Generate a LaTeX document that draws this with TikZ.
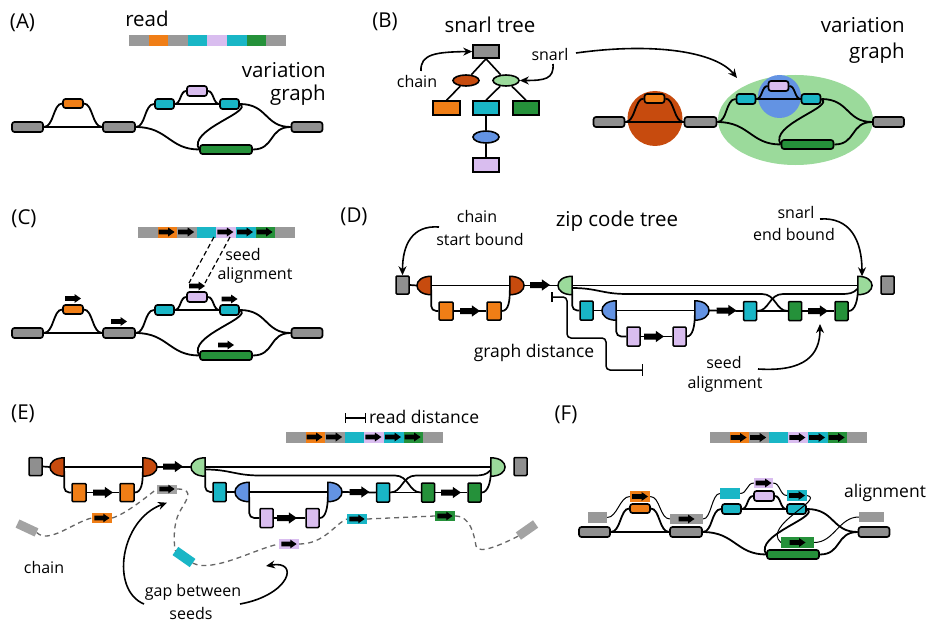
\documentclass[tikz,border=0pt]{standalone}
\usepackage{fontspec}
\setmainfont{Open Sans}
\usetikzlibrary{arrows.meta,shapes.geometric,backgrounds}
\definecolor{cgray}{HTML}{8F8F8F}
\definecolor{rgray}{HTML}{999999}
\definecolor{sgray}{HTML}{A3A3A3}
\definecolor{corange}{HTML}{F07E16}
\definecolor{ccyan}{HTML}{19B6C6}
\definecolor{clilac}{HTML}{D9BDEF}
\definecolor{cgreen}{HTML}{25913A}
\definecolor{crust}{HTML}{C74B0E}
\definecolor{clgreen}{HTML}{9BDA9B}
\definecolor{cblue}{HTML}{6393E3}
\newcommand\fbig{\fontsize{20.5}{22}\selectfont}
\newcommand\fmed{\fontsize{17.5}{19}\selectfont}
\newcommand\fsm{\fontsize{16}{18}\selectfont}
\tikzset{
  gn/.style={draw, line width=1.7pt, rounded corners=2.5pt, inner sep=0pt, minimum height=10pt},
  ged/.style={line width=1.8pt},
  zr/.style={draw, line width=1.5pt, inner sep=0pt, minimum width=13pt, minimum height=18pt, rounded corners=1pt},
  hd/.style={inner sep=0pt, minimum width=14pt, minimum height=18pt},
  hdd/.style={draw, line width=1.5pt},
  zl/.style={line width=1.7pt},
  carr/.style={-{Stealth[length=9pt,width=8pt]}, line width=1.6pt},
  lbl/.style={inner sep=0pt, font=\fbig},
  med/.style={inner sep=0pt, font=\fmed},
  sml/.style={inner sep=0pt, font=\fsm},
  sd/.style={inner sep=0pt, minimum width=20pt, minimum height=10pt},
  chn/.style={draw=black!60, line width=1.3pt, dash pattern=on 5pt off 4pt},
  aln/.style={line width=1pt},
  tn/.style={draw, line width=1.6pt, inner sep=0pt, minimum width=26pt, minimum height=14pt},
  te/.style={ellipse, draw, line width=1.6pt, inner sep=0pt, minimum width=26pt, minimum height=11pt},
  barr/.pic={\fill[black] (-8,-2.4) -- (1.5,-2.4) -- (1.5,-4.5) -- (8,0) -- (1.5,4.5) -- (1.5,2.4) -- (-8,2.4) -- cycle;},
  vg/.pic={
    \node[gn,fill=cgray,minimum width=31pt] (-lg) at (27.5,127) {};
    \node[gn,fill=corange,minimum width=20pt,minimum height=9pt] (-or) at (73,103.5) {};
    \node[gn,fill=cgray,minimum width=32pt] (-mg) at (119,127) {};
    \node[gn,fill=ccyan,minimum width=19pt] (-ca) at (164.5,104) {};
    \node[gn,fill=clilac,minimum width=20pt] (-li) at (197,91) {};
    \node[gn,fill=ccyan,minimum width=19pt] (-cb) at (229.5,104) {};
    \node[gn,fill=cgreen,minimum width=52pt,minimum height=9pt] (-gr) at (226,149.5) {};
    \node[gn,fill=cgray,minimum width=31pt] (-rg) at (307,127) {};
    \draw[ged] (-lg.east) -- (-mg.west);
    \draw[ged] (-lg.east) .. controls +(10,0) and +(-9,0) .. (-or.west);
    \draw[ged] (-or.east) .. controls +(9,0) and +(-10,0) .. (-mg.west);
    \draw[ged] (-mg.east) .. controls +(10,0) and +(-10,0) .. (-ca.west);
    \draw[ged] (-ca.east) -- (-cb.west);
    \draw[ged] (-ca.east) .. controls +(6,0) and +(-6,0) .. (-li.west);
    \draw[ged] (-li.east) .. controls +(6,0) and +(-6,0) .. (-cb.west);
    \draw[ged] (-mg.east) .. controls +(32,0) and +(-30,0) .. (-gr.west);
    \draw[ged] (-cb.east) .. controls +(28,0) and +(-26,0) .. (-rg.west);
    \draw[ged] (-cb.east) .. controls +(14,8) and +(-12,-20) .. (-gr.west);
    \draw[ged] (-gr.east) .. controls +(22,0) and +(-22,0) .. (-rg.west);
  },
  zt/.pic={
    \node[zr,fill=cgray] (-g1) at (402.5,285) {};
    \node[hd] (-rs) at (424,285.5) {};
    \node[hd] (-re) at (517,285.5) {};
    \node[hd] (-gs) at (565,285.5) {};
    \node[hd] (-ge) at (865,285.5) {};
    \node[zr,fill=cgray] (-g2) at (887.5,285) {};
    \node[zr,fill=corange,minimum width=14pt] (-o1) at (446,311) {};
    \node[zr,fill=corange,minimum width=14pt] (-o2) at (494,311) {};
    \node[zr,fill=ccyan,minimum height=19pt] (-c1) at (586.5,310.5) {};
    \node[hd,minimum height=19pt] (-bs) at (609,310.5) {};
    \node[hd,minimum height=19pt] (-be) at (702,310.5) {};
    \node[zr,fill=ccyan,minimum height=19pt] (-c2) at (750,311) {};
    \node[zr,fill=cgreen,minimum height=19pt] (-k1) at (795,311) {};
    \node[zr,fill=cgreen,minimum height=19pt] (-k2) at (841.5,311) {};
    \node[zr,fill=clilac,minimum height=19pt] (-l1) at (633.5,336.5) {};
    \node[zr,fill=clilac,minimum height=19pt] (-l2) at (679.5,336.5) {};
    \draw[zl] (-g1.east) -- (-rs.west);
    \draw[zl] (-rs.east) -- (-re.west);
    \draw[zl,rounded corners=5pt] ([yshift=-4pt]-rs.east) |- (-o1.west);
    \draw[zl] (-o1.east) -- (-o2.west);
    \draw[zl] (-o2.east) .. controls +(7,0) and +(0,10) .. ([yshift=-5pt]-re.west);
    \draw[zl] (-re.east) -- (-gs.west);
    \draw[zl] (-gs.east) -- (-ge.west);
    \draw[zl] ([yshift=-2.5pt]-gs.east) .. controls +(25,0) and +(-25,0) .. (627,294) -- (762,294) .. controls +(14,0) and +(-12,0) .. (-k1.west);
    \draw[zl] (-c2.east) .. controls +(12,0) and +(-14,0) .. (783,294) -- (840,294) .. controls +(10,0) and +(-5,5) .. ([yshift=-3pt]-ge.west);
    \draw[zl] (-c2.east) -- (-k1.west);
    \draw[zl,rounded corners=5pt] ([yshift=-5pt]-gs.east) |- (-c1.west);
    \draw[zl] (-c1.east) -- (-bs.west);
    \draw[zl] (-bs.east) -- (-be.west);
    \draw[zl,rounded corners=5pt] ([yshift=-5pt]-bs.east) |- (-l1.west);
    \draw[zl] (-l1.east) -- (-l2.west);
    \draw[zl] (-l2.east) .. controls +(6,0) and +(0,10) .. ([yshift=-5pt]-be.west);
    \draw[zl] (-be.east) -- (-c2.west);
    \draw[zl] (-k1.east) -- (-k2.west);
    \draw[zl] (-k2.east) .. controls +(6,0) and +(0,10) .. ([yshift=-5pt]-ge.west);
    \draw[hdd,fill=crust] (-rs.north east) .. controls +(-19,0) and +(-19,0) .. (-rs.south east) -- cycle;
    \draw[hdd,fill=crust] (-re.north west) .. controls +(19,0) and +(19,0) .. (-re.south west) -- cycle;
    \draw[hdd,fill=clgreen] (-gs.north east) .. controls +(-19,0) and +(-19,0) .. (-gs.south east) -- cycle;
    \draw[hdd,fill=clgreen] (-ge.north west) .. controls +(19,0) and +(19,0) .. (-ge.south west) -- cycle;
    \draw[hdd,fill=cblue] (-bs.north east) .. controls +(-19,0) and +(-19,0) .. (-bs.south east) -- cycle;
    \draw[hdd,fill=cblue] (-be.north west) .. controls +(19,0) and +(19,0) .. (-be.south west) -- cycle;
    \pic[scale=1.25] at (540,285) {barr};
    \pic[scale=1.25] at (470,311) {barr};
    \pic[scale=1.25] at (726.5,310.5) {barr};
    \pic[scale=1.25] at (818,311) {barr};
    \pic[scale=1.25] at (654,336.5) {barr};
  }
}
\newcommand\readbar[2]{%
  \foreach \cc [count=\ii from 0] in {rgray,corange,rgray,ccyan,clilac,ccyan,cgreen,rgray}
    \fill[\cc] ({#1+\ii*19.6},{#2-5.5}) rectangle ++(19.6,11);
}
\newcommand\readarrows[2]{%
  \foreach \ii in {1,2,4,5,6} \pic at ({#1+\ii*19.6+9},{#2}) {barr};
}
\begin{document}
\begin{tikzpicture}[x=1pt,y=-1pt]
\useasboundingbox (0,0) rectangle (942,623);
%%%%% A
\node[lbl] (labA) at (22.5,22.5) {(A)};
\node[lbl] (treadA) at (147,18.5) {read};
\readbar{129}{40.5}
\node[lbl,anchor=east] (tvarA) at (326,70) {variation};
\node[lbl,anchor=east] (tgraA) at (326,95) {graph};
\pic (A) at (0,0) {vg};
%%%%% B
\node[lbl] (labB) at (385,22) {(B)};
\node[lbl] (tsnt) at (490,25) {snarl tree};
\node[tn,fill=cgray,minimum height=13pt] (troot) at (486,51.5) {};
\node[te,fill=crust] (tr1) at (466,80.5) {};
\node[te,fill=clgreen] (tr2) at (506,80.5) {};
\node[tn,fill=corange,minimum width=27pt] (tr3) at (446.5,108) {};
\node[tn,fill=ccyan] (tr4) at (486,108) {};
\node[tn,fill=cgreen] (tr5) at (526,108) {};
\node[te,fill=cblue,minimum height=12pt] (tr6) at (486,137) {};
\node[tn,fill=clilac] (tr7) at (486,165) {};
\begin{scope}[on background layer]
\fill[white] (0,0) rectangle (942,623);
\draw[line width=1.6pt] (troot.south) -- (tr1) (troot.south) -- (tr2) (tr1) -- (tr3.north) (tr2) -- (tr4.north) (tr2) -- (tr5.north) (tr4) -- (tr6) (tr6) -- (tr7);
\end{scope}
\node[sml] (tchainB) at (417,82) {chain};
\coordinate (chB) at (421,71);
\draw[carr] (chB) .. controls (420,54) and (436,52) .. (troot.west);
\node[sml] (tsnarlB) at (550,55) {snarl};
\coordinate (snB) at (553,64);
\draw[carr] (snB) .. controls (554,79) and (545,80.5) .. (tr2.east);
\coordinate (snB2) at (576,53);
\coordinate (snB3) at (737,78);
\draw[carr] (snB2) .. controls (655,42) and (716,52) .. (snB3);
\node[lbl,anchor=east] (tvarB) at (905,25) {variation};
\node[lbl,anchor=east] (tgraB) at (905,53) {graph};
\fill[crust] (655,118.5) circle[radius=27.5pt];
\fill[clgreen] (795.5,120) ellipse[x radius=77.5pt, y radius=45pt];
\fill[cblue] (779.5,96.5) circle[radius=21.5pt];
\pic (B) at (581.5,-5) {vg};
%%%%% C
\node[lbl] (labC) at (24,219) {(C)};
\readbar{138}{232}
\readarrows{138}{232}
\pic (C) at (0,206) {vg};
\pic at ([yshift=11pt]C-or.center) {barr};
\pic at ([yshift=11.5pt]C-mg.center) {barr};
\pic at ([yshift=11pt]C-li.center) {barr};
\pic at ([yshift=11pt]C-cb.center) {barr};
\pic at ([yshift=10.5pt]C-gr.center) {barr};
\coordinate (cd1) at (214,237); \coordinate (cd2) at (189,283);
\coordinate (cd3) at (230,237); \coordinate (cd4) at (205,283);
\draw[line width=1.2pt,dash pattern=on 5pt off 3pt] (cd1) -- (cd2);
\draw[line width=1.2pt,dash pattern=on 5pt off 3pt] (cd3) -- (cd4);
\node[sml] (tseedC) at (243,254) {seed};
\node[sml] (talC) at (255,275) {alignment};
%%%%% D
\node[lbl] (labD) at (354,217) {(D)};
\node[lbl] (tzip) at (617,221) {zip code tree};
\node[sml] (tchD) at (477,216) {chain};
\node[sml] (tsbD) at (480,239) {start bound};
\node[sml] (tsnD) at (796,212) {snarl};
\node[sml] (tebD) at (794,234) {end bound};
\pic (D) at (0,0) {zt};
\coordinate (dA) at (439,227);
\draw[carr] (dA) .. controls (412,225) and (402.5,245) .. (D-g1.north);
\coordinate (dB) at (820,219);
\draw[carr] (dB) .. controls (850,217) and (862,240) .. ([xshift=-3pt]D-ge.north);
\coordinate (gd1) at (551,297); \coordinate (gd2) at (643,370);
\draw[line width=1.5pt,rounded corners=4pt,{Bar[width=10pt]}-{Bar[width=12pt]}] (gd1) -- (567,297) -- (567,338) -- (606,338) -- (606,370) -- (gd2);
\node[med] (tgd) at (534,353) {graph distance};
\node[sml] (tseedD) at (724,362) {seed};
\node[sml] (talD) at (725,384) {alignment};
\coordinate (dC) at (758,369);
\draw[carr] (dC) .. controls (805,372) and (820,355) .. (820,324);
%%%%% E
\node[lbl] (labE) at (23,414) {(E)};
\coordinate (rd1) at (345,418); \coordinate (rd2) at (366,418);
\draw[line width=1.4pt,{Bar[width=10pt]}-{Bar[width=10pt]}] (rd1) -- (rd2);
\node[med,anchor=west] (trd) at (369,417) {read distance};
\readbar{286}{437}
\readarrows{286}{437}
\pic (E) at (-367,181.5) {zt};
\node[sd,fill=sgray,minimum width=21pt,minimum height=9pt,rotate=-25] (es1) at (27,528) {};
\node[sd,fill=corange] (es2) at (102,518) {};
\node[sd,fill=sgray,minimum height=9pt] (es3) at (167,489) {};
\node[sd,fill=ccyan,minimum width=21pt,rotate=-35] (es4) at (184,557) {};
\node[sd,fill=clilac] (es5) at (289,544) {};
\node[sd,fill=ccyan] (es6) at (357,519) {};
\node[sd,fill=cgreen] (es7) at (445,516) {};
\node[sd,fill=sgray,minimum width=21pt,minimum height=9pt,rotate=35] (es8) at (527,530) {};
\foreach \nn in {es2,es3,es5,es6,es7} \pic[scale=0.95] at (\nn) {barr};
\draw[chn] (es1.east) .. controls +(12,12) and +(-18,4) .. (es2.west);
\draw[chn] (es2.east) .. controls +(14,-4) and +(-8,6) .. (es3.west);
\draw[chn] (es3.east) .. controls +(20,0) and +(5,-10) .. (179,513) .. controls +(-5,10) and +(-2,-12) .. (es4.west);
\draw[chn] (es4.east) .. controls +(20,10) and +(-24,5) .. (es5.west);
\draw[chn] (es5.east) .. controls +(25,0) and +(-12,5) .. (es6.west);
\draw[chn] (es6.east) -- (es7.west);
\draw[chn] (es7.east) .. controls +(15,0) and +(-2,-12) .. (476,546) .. controls +(2,10) and +(-12,6) .. (es8.west);
\node[sml] (tchE) at (44,567) {chain};
\node[sml] (tgapE) at (193,592) {gap between};
\node[sml] (tsdE) at (191,613) {seeds};
\coordinate (ga1) at (144,604);
\draw[carr] (ga1) .. controls (110,590) and (120,520) .. ([yshift=-9pt]es3.south);
\coordinate (ga2) at (240,604); \coordinate (ga3) at (266,566);
\draw[carr] (ga2) .. controls (290,595) and (300,560) .. (ga3);
%%%%% F
\node[lbl] (labF) at (566,415) {(F)};
\readbar{710}{437.5}
\readarrows{710}{437.5}
\node[med] (talF) at (885,493) {alignment};
\pic (F) at (567,405) {vg};
\node[sd,fill=rgray,minimum width=19pt,minimum height=11pt] (fa) at (597.5,517.5) {};
\node[sd,fill=corange,minimum height=11pt] (fo) at (640,496.5) {};
\node[sd,fill=rgray,minimum width=33pt] (fg) at (686.5,519) {};
\node[sd,fill=ccyan,minimum height=11pt] (fc) at (730,493.5) {};
\node[sd,fill=clilac,minimum width=19pt] (fl) at (763.5,483) {};
\node[sd,fill=ccyan,minimum height=11pt] (fc2) at (797,495.5) {};
\node[sd,fill=cgreen,minimum width=33pt,minimum height=11pt] (fgr) at (797.5,542.5) {};
\node[sd,fill=rgray,minimum width=25pt] (fe) at (871.5,517) {};
\foreach \nn in {fo,fg,fl,fc2,fgr} \pic at (\nn) {barr};
\draw[aln] (fa.east) .. controls +(10,0) and +(-10,0) .. (fo.west);
\draw[aln] (fo.east) .. controls +(10,0) and +(-10,0) .. (fg.west);
\draw[aln] (fg.east) .. controls +(8,0) and +(-8,0) .. (fc.west);
\draw[aln] (fc.east) .. controls +(7,0) and +(-7,0) .. (fl.west);
\draw[aln] (fl.east) .. controls +(7,0) and +(-7,0) .. (fc2.west);
\draw[aln] (fc2.east) .. controls +(18,4) and +(-19,-17) .. (fgr.west);
\draw[aln] (fgr.east) .. controls +(20,0) and +(-20,0) .. (fe.west);
\end{tikzpicture}
\end{document}
